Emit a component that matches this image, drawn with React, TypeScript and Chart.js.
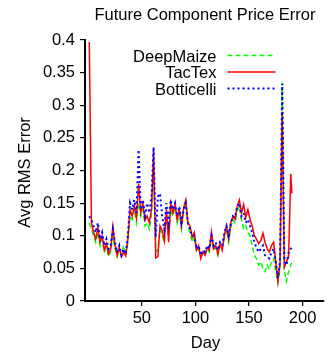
import React, { useEffect, useRef } from "react";
import { Chart, registerables } from "chart.js";

Chart.register(...registerables);

const titleText = "Future Component Price Error";
const xTitle = "Day";
const yTitle = "Avg RMS Error";

const xTicks = [50, 100, 150, 200];
const yTicks = [0, 0.05, 0.1, 0.15, 0.2, 0.25, 0.3, 0.35, 0.4];

// days 1,3,5,...,189 then 190
const days = [
  1, 3, 5, 7, 9, 11, 13, 15, 17, 19, 21, 23, 25, 27, 29, 31, 33, 35, 37, 39,
  41, 43, 45, 47, 49, 51, 53, 55, 57, 59, 61, 63, 65, 67, 69, 71, 73, 75, 77, 79,
  81, 83, 85, 87, 89, 91, 93, 95, 97, 99, 101, 103, 105, 107, 109, 111, 113, 115, 117, 119,
  121, 123, 125, 127, 129, 131, 133, 135, 137, 139, 141, 143, 145, 147, 149, 151, 153, 155, 157, 159,
  161, 163, 165, 167, 169, 171, 173, 175, 177, 179, 181, 183, 185, 187, 189, 190,
];

const deepMaize = [
  0.12, 0.11, 0.1, 0.09, 0.105, 0.085, 0.095, 0.075, 0.082, 0.068, 0.076, 0.1, 0.08, 0.068, 0.078, 0.072, 0.085, 0.07, 0.09, 0.13,
  0.125, 0.14, 0.12, 0.15, 0.13, 0.14, 0.115, 0.12, 0.11, 0.13, 0.2, 0.075, 0.08, 0.11, 0.1, 0.09, 0.13, 0.1, 0.14, 0.13,
  0.145, 0.12, 0.135, 0.11, 0.138, 0.145, 0.115, 0.105, 0.09, 0.1, 0.075, 0.08, 0.068, 0.072, 0.07, 0.08, 0.075, 0.098, 0.078, 0.082,
  0.07, 0.085, 0.08, 0.095, 0.11, 0.09, 0.112, 0.125, 0.12, 0.138, 0.145, 0.125, 0.11, 0.115, 0.105, 0.1, 0.085, 0.07, 0.065, 0.055,
  0.06, 0.05, 0.045, 0.055, 0.048, 0.06, 0.065, 0.045, 0.028, 0.05, 0.335, 0.045, 0.03, 0.045, 0.055, 0.06,
];

const tacTex = [
  0.397, 0.12, 0.105, 0.095, 0.112, 0.09, 0.1, 0.078, 0.088, 0.072, 0.08, 0.114, 0.085, 0.07, 0.082, 0.068, 0.075, 0.069, 0.095, 0.14,
  0.13, 0.145, 0.128, 0.18, 0.135, 0.15, 0.124, 0.13, 0.12, 0.14, 0.23, 0.066, 0.068, 0.115, 0.108, 0.092, 0.14, 0.09, 0.15, 0.135,
  0.148, 0.125, 0.14, 0.115, 0.142, 0.155, 0.12, 0.115, 0.098, 0.105, 0.078, 0.085, 0.065, 0.075, 0.07, 0.082, 0.078, 0.106, 0.08, 0.085,
  0.072, 0.088, 0.078, 0.1, 0.115, 0.095, 0.12, 0.13, 0.125, 0.145, 0.155, 0.135, 0.148, 0.128, 0.14, 0.125, 0.115, 0.1, 0.095, 0.088,
  0.092, 0.104, 0.09, 0.08, 0.075, 0.085, 0.09, 0.06, 0.03, 0.06, 0.29, 0.052, 0.06, 0.068, 0.195, 0.165,
];

const botticelli = [
  0.13, 0.125, 0.115, 0.105, 0.12, 0.095, 0.105, 0.085, 0.095, 0.08, 0.085, 0.11, 0.09, 0.075, 0.085, 0.07, 0.08, 0.072, 0.1, 0.15,
  0.14, 0.155, 0.135, 0.232, 0.14, 0.155, 0.13, 0.15, 0.135, 0.16, 0.236, 0.098, 0.16, 0.165, 0.13, 0.11, 0.15, 0.12, 0.155, 0.14,
  0.15, 0.13, 0.145, 0.12, 0.14, 0.15, 0.12, 0.11, 0.1, 0.1, 0.08, 0.085, 0.07, 0.078, 0.075, 0.085, 0.08, 0.1, 0.085, 0.09,
  0.078, 0.09, 0.085, 0.105, 0.115, 0.1, 0.118, 0.13, 0.128, 0.145, 0.15, 0.13, 0.135, 0.12, 0.125, 0.115, 0.105, 0.09, 0.082, 0.075,
  0.08, 0.085, 0.07, 0.068, 0.065, 0.075, 0.08, 0.06, 0.035, 0.06, 0.333, 0.06, 0.055, 0.075, 0.08, 0.082,
];

const FONT = "'Liberation Sans', Arial, Helvetica, sans-serif";
const FS = 16.5;

const textPlugin = {
  id: "customText",
  afterDraw(chart: any) {
    const ctx = chart.ctx as CanvasRenderingContext2D;
    const area = chart.chartArea;
    ctx.save();
    ctx.fillStyle = "#000";
    ctx.font = `${FS}px ${FONT}`;
    ctx.textBaseline = "alphabetic";
    ctx.textAlign = "center";
    ctx.fillText(titleText, 205, 20);
    ctx.fillText(xTitle, 205.5, 348);
    ctx.save();
    ctx.translate(29.5, (area.top + area.bottom) / 2 + 2);
    ctx.rotate(-Math.PI / 2);
    ctx.fillText(yTitle, 0, 0);
    ctx.restore();

    // legend
    const rows = [61.5, 78, 94.5];
    const order = [0, 1, 2];
    order.forEach((di, r) => {
      const ds = chart.data.datasets[di];
      ctx.textAlign = "right";
      ctx.fillStyle = "#000";
      ctx.fillText(ds.label, 216.5, rows[r]);
      ctx.beginPath();
      ctx.strokeStyle = ds.borderColor;
      ctx.lineWidth = ds.borderWidth;
      ctx.setLineDash(ds.borderDash || []);
      const ly = rows[r] - 6;
      ctx.moveTo(227.5, ly);
      ctx.lineTo(275.5, ly);
      ctx.stroke();
    });
    ctx.restore();
  },
};

export default function App() {
  const ref = useRef<HTMLCanvasElement | null>(null);
  useEffect(() => {
    if (!ref.current) return;
    const mk = (arr: number[]) => days.map((d, i) => ({ x: d, y: arr[i] }));
    const chart = new Chart(ref.current, {
      type: "line",
      data: {
        datasets: [
          {
            label: "DeepMaize",
            data: mk(deepMaize),
            borderColor: "#00ff00",
            borderWidth: 1.5,
            borderDash: [5, 3],
            pointRadius: 0,
            tension: 0,
            fill: false,
            order: 2,
          },
          {
            label: "TacTex",
            data: mk(tacTex),
            borderColor: "#ff0000",
            borderWidth: 1.5,
            pointRadius: 0,
            tension: 0,
            fill: false,
            order: 1,
          },
          {
            label: "Botticelli",
            data: mk(botticelli),
            borderColor: "#0000ff",
            borderWidth: 2,
            borderDash: [2, 3],
            pointRadius: 0,
            tension: 0,
            fill: false,
            order: 0,
          },
        ],
      },
      options: {
        animation: false,
        responsive: false,
        devicePixelRatio: 1,
        layout: { padding: { top: 40, right: 7, left: 0, bottom: 0 } },
        plugins: {
          legend: { display: false },
          title: { display: false },
          tooltip: { enabled: false },
        },
        scales: {
          x: {
            type: "linear",
            min: -3,
            max: 220,
            afterBuildTicks: (s: any) => {
              s.ticks = xTicks.map((v) => ({ value: v }));
            },
            afterFit: (s: any) => {
              s.height = 55;
            },
            grid: {
              drawOnChartArea: false,
              drawTicks: true,
              tickLength: 5,
              color: "#000",
              lineWidth: 1.2,
            },
            border: { display: true, color: "#000", width: 2 },
            ticks: {
              color: "#000",
              font: { family: FONT, size: FS },
              padding: 3,
              maxRotation: 0,
              autoSkip: false,
            },
          },
          y: {
            type: "linear",
            min: 0,
            max: 0.4,
            afterBuildTicks: (s: any) => {
              s.ticks = yTicks.map((v) => ({ value: v }));
            },
            afterFit: (s: any) => {
              s.width = 85;
            },
            grid: {
              drawOnChartArea: false,
              drawTicks: true,
              tickLength: 5,
              color: "#000",
              lineWidth: 1.2,
            },
            border: { display: true, color: "#000", width: 2 },
            ticks: {
              color: "#000",
              font: { family: FONT, size: FS },
              padding: 5,
              autoSkip: false,
              callback: (v: any) => String(Number(Number(v).toFixed(2))),
            },
          },
        },
      },
      plugins: [textPlugin],
    });
    return () => chart.destroy();
  }, []);
  return (
    <div style={{ position: "fixed", left: 0, top: 0, width: 331, height: 356, background: "#fff" }}>
      <canvas ref={ref} width={331} height={356} style={{ display: "block" }} />
    </div>
  );
}
